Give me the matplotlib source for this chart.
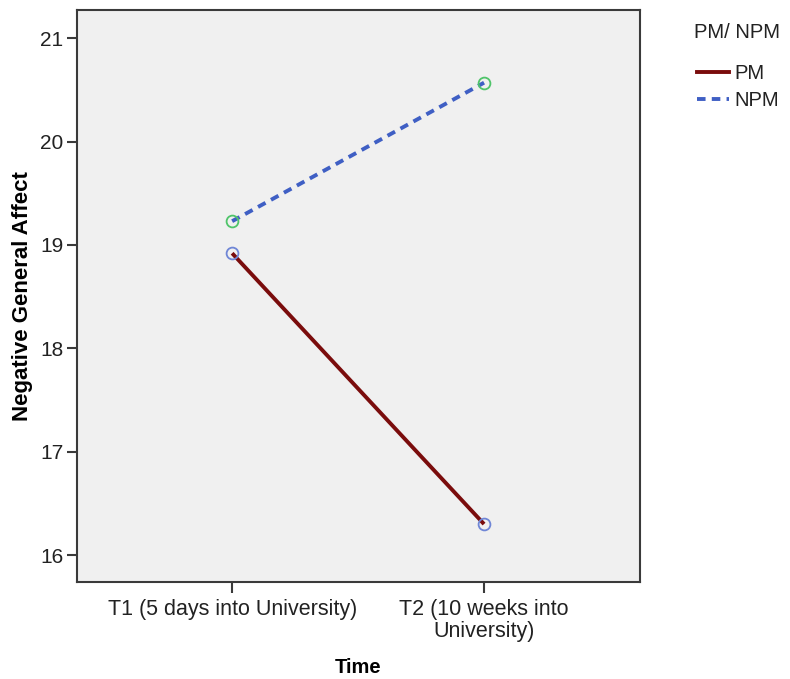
import matplotlib
matplotlib.use("Agg")
import matplotlib.pyplot as plt
from matplotlib.lines import Line2D

plt.rcParams['font.family'] = ['Liberation Sans', 'DejaVu Sans']

time_labels = ["T1 (5 days into University)", "T2 (10 weeks into\nUniversity)"]
pm_values = [18.92, 16.30]
npm_values = [19.23, 20.57]
series_names = ["PM", "NPM"]
legend_title = "PM/ NPM"
y_ticks = [16, 17, 18, 19, 20, 21]

PM_COLOR = "#7a0c0c"
NPM_COLOR = "#3f5fc4"
NPM_DASH = (0, (2.2, 1.6))

fig = plt.figure(figsize=(7.9, 6.79), dpi=100)
ax = fig.add_axes([0.0971, 0.1429, 0.713, 0.8419])
ax.set_facecolor("#f0f0f0")

x = list(range(len(time_labels)))
ax.plot(x, pm_values, color=PM_COLOR, lw=2.8, solid_capstyle="butt", zorder=3)
ax.plot(x, npm_values, color=NPM_COLOR, lw=2.8, linestyle=NPM_DASH, zorder=3)
ax.plot(x, pm_values, linestyle="none", marker="o", markersize=8.5,
        markerfacecolor="none", markeredgecolor="#6f86d6", markeredgewidth=1.3, zorder=4)
ax.plot(x, npm_values, linestyle="none", marker="o", markersize=8.5,
        markerfacecolor="none", markeredgecolor="#4fc46a", markeredgewidth=1.3, zorder=4)

ax.set_xlim(-0.617, 1.619)
ax.set_ylim(15.74, 21.27)
ax.set_xticks(x)
ax.set_xticklabels(time_labels, fontsize=15.5, color="#222222", linespacing=1.1)
ax.set_yticks(y_ticks)
ax.set_yticklabels([str(v) for v in y_ticks], fontsize=15, color="#222222")

for s in ax.spines.values():
    s.set_color("#3a3a3a")
    s.set_linewidth(1.5)
ax.tick_params(axis="y", length=7.5, width=1.5, color="#3a3a3a", pad=2)
ax.tick_params(axis="x", length=8, width=1.5, color="#3a3a3a", pad=4)

ax.set_xlabel("Time", fontsize=14.5, fontweight="bold")
ax.xaxis.set_label_coords(0.5, -0.133)
ax.set_ylabel("Negative General Affect", fontsize=16, fontweight="bold")
ax.yaxis.set_label_coords(-0.078, 0.5)

fig.text(694 / 790, 1 - 33 / 679, legend_title, fontsize=14.5, color="#222222",
         ha="left", va="center")
handles = [
    Line2D([], [], color=PM_COLOR, lw=2.8),
    Line2D([], [], color=NPM_COLOR, lw=2.8, linestyle=NPM_DASH),
]
fig.legend(handles, series_names, loc="upper left",
           bbox_to_anchor=(697 / 790, 1 - 64 / 679), frameon=False, fontsize=14.5,
           handlelength=1.6, handletextpad=0.25, labelspacing=0.4,
           borderpad=0, borderaxespad=0, labelcolor="#222222")

fig.savefig("out.png", dpi=100, facecolor="white")
